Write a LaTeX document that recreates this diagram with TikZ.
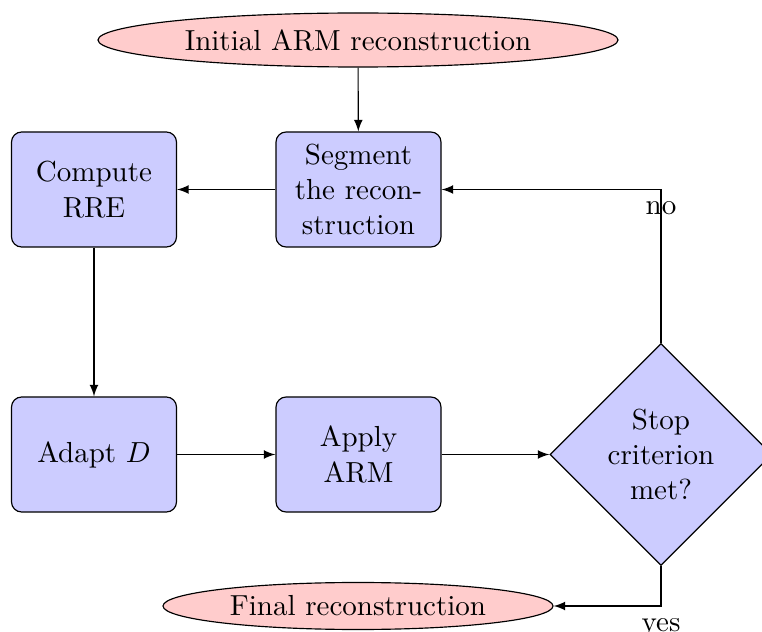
\documentclass[tikz,border=0pt]{standalone}
\usetikzlibrary{shapes.geometric,arrows}
\begin{document}
\begin{tikzpicture}[
    x=0.3448pt, y=-0.3448pt,
    >=latex,
    every node/.style={font=\fontsize{10}{12.2}\selectfont},
    process/.style={draw, rectangle, rounded corners=3.5pt, fill=blue!20,
        minimum width=165*0.3448pt, minimum height=115*0.3448pt,
        text width=150*0.3448pt, align=center, inner sep=0pt},
    terminal/.style={draw, ellipse, fill=red!20, inner sep=0pt},
    decision/.style={draw, diamond, aspect=1, fill=blue!20,
        minimum width=222*0.3448pt, minimum height=222*0.3448pt,
        text width=110*0.3448pt, align=center, inner sep=0pt},
    flow/.style={->},
    branch/.style={below, inner sep=4pt}
  ]
  \useasboundingbox (0,0) rectangle (762,632);

  \node[terminal, minimum width=520*0.3448pt, minimum height=54*0.3448pt] (init) at (358,40) {Initial ARM reconstruction};
  \node[process] (segment) at (358.5,189.5) {Segment\\the recon-\\struction};
  \node[process] (rre) at (94,189.5) {Compute\\RRE};
  \node[process] (adapt) at (94,454.5) {Adapt $D$};
  \node[process] (apply) at (358.5,454.5) {Apply\\ARM};
  \node[decision] (stop) at (661,454.5) {Stop\\criterion\\met?};
  \node[terminal, minimum width=390*0.3448pt, minimum height=47*0.3448pt] (final) at (358,606) {Final reconstruction};

  \coordinate (nocorner) at (stop.north |- segment.east);
  \coordinate (yescorner) at (stop.south |- final.east);

  \draw[flow] (init) -- (segment);
  \draw[flow] (segment) -- (rre);
  \draw[flow] (rre) -- (adapt);
  \draw[flow] (adapt) -- (apply);
  \draw[flow] (apply) -- (stop);
  \draw[flow] (stop.north) -- (nocorner) node[branch] (nolabel) {no} -- (segment.east);
  \draw[flow] (stop.south) -- (yescorner) node[branch] (yeslabel) {yes} -- (final.east);
\end{tikzpicture}
\end{document}
